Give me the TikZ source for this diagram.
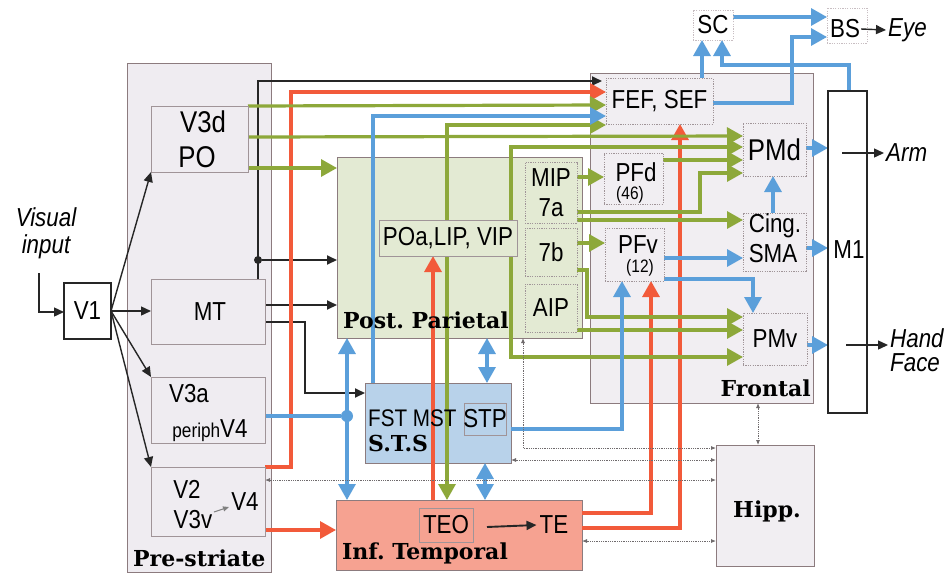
\documentclass[tikz,border=0pt]{standalone}
\usepackage{fontspec}
\setmainfont{Liberation Sans}
\newfontfamily\labfam[FakeStretch=0.86]{Liberation Sans}
\newfontfamily\serfam{DejaVu Serif}
\usetikzlibrary{arrows.meta}
\frenchspacing
\definecolor{cRed}{HTML}{F25A3A}
\definecolor{cGrn}{HTML}{8DA83A}
\definecolor{cBlu}{HTML}{5B9FDA}
\definecolor{cBlk}{HTML}{262626}
\definecolor{preF}{HTML}{EFECF1}
\definecolor{parF}{HTML}{E3EAD3}
\definecolor{stsF}{HTML}{B8D2EA}
\definecolor{itF}{HTML}{F6A291}
\definecolor{froF}{HTML}{F1EEF2}
\definecolor{regB}{HTML}{8C7B7E}
\definecolor{iboxB}{HTML}{A09498}
\definecolor{lboxB}{HTML}{C8BEC2}
\definecolor{dotC}{HTML}{6F6A6C}
\begin{document}
\begin{tikzpicture}[x=1pt,y=-1pt,
  region/.style={draw=regB, line width=0.8pt, anchor=north west, inner sep=0pt, outer sep=0pt},
  ibox/.style={draw=iboxB, line width=0.7pt, anchor=north west, inner sep=0pt, outer sep=0pt,
    font=\labfam\fontsize{26}{28}\selectfont},
  dbox/.style={ibox, dash pattern=on 1.2pt off 1.2pt},
  lbox/.style={dbox, draw=lboxB},
  lab/.style={font=\labfam\fontsize{26}{28}\selectfont, inner sep=0pt},
  big/.style={font=\labfam\fontsize{30}{32}\selectfont, inner sep=0pt},
  sml/.style={font=\labfam\fontsize{18}{20}\selectfont, inner sep=0pt},
  ital/.style={font=\labfam\itshape\fontsize{26}{28}\selectfont, inner sep=2pt},
  ser/.style={font=\serfam\bfseries\fontsize{22}{24}\selectfont, inner sep=0pt},
  cl/.style={line width=3.2pt},
  red/.style={cl, draw=cRed},
  grn/.style={cl, draw=cGrn},
  blu/.style={cl, draw=cBlu},
  blk/.style={line width=1.9pt, draw=cBlk},
  dln/.style={line width=0.8pt, draw=dotC, densely dotted},
  tipC/.style={-{Triangle[length=16pt,width=17pt]}},
  bothC/.style={{Triangle[length=16pt,width=17pt]}-{Triangle[length=16pt,width=17pt]}},
  tipK/.style={-{Triangle[length=10pt,width=9pt]}},
  tipS/.style={{Latex[length=5pt,width=4pt]}-{Latex[length=5pt,width=4pt]}}
]
\path[use as bounding box, fill=white] (0,0) rectangle (951,574);

% ---------- regions ----------
\node[region, fill=preF, minimum width=144pt, minimum height=509pt] (pre) at (127,63) {};
\node[region, fill=parF, minimum width=245pt, minimum height=181pt] (par) at (337,157) {};
\node[region, fill=stsF, minimum width=146pt, minimum height=80pt] (sts) at (365,383) {};
\node[region, fill=itF, minimum width=246pt, minimum height=70pt] (it) at (336,500) {};
\node[region, fill=froF, minimum width=223pt, minimum height=330pt] (fro) at (590,73) {};
\node[region, fill=froF, minimum width=98pt, minimum height=121pt] (hipp) at (716,445) {};

% ---------- inner boxes (positions only, drawn later) ----------
\path
 node[ibox, fill=preF, minimum width=97pt, minimum height=66pt] (V3d) at (151,106) {}
 node[ibox, fill=preF, minimum width=114pt, minimum height=65pt] (MT) at (151,279) {}
 node[ibox, fill=preF, minimum width=114pt, minimum height=66pt] (V3a) at (151,377) {}
 node[ibox, fill=preF, minimum width=114pt, minimum height=69pt] (V2) at (151,467) {}
 node[draw=cBlk, line width=1.3pt, fill=white, anchor=north west, inner sep=0pt, outer sep=0pt,
      minimum width=47pt, minimum height=56pt] (V1) at (64,283) {}
 node[ibox, fill=parF, minimum width=138pt, minimum height=36pt] (POa) at (379,220) {}
 node[dbox, fill=parF, minimum width=52pt, minimum height=61pt] (MIP) at (525,162) {}
 node[dbox, fill=parF, minimum width=52pt, minimum height=48pt] (b7) at (525,228) {}
 node[dbox, fill=parF, minimum width=52pt, minimum height=48pt] (AIP) at (525,284) {}
 node[ibox, fill=stsF, minimum width=42pt, minimum height=32pt] (STP) at (464,403) {}
 node[ibox, fill=itF, minimum width=54pt, minimum height=34pt] (TEO) at (419,508) {}
 node[dbox, fill=froF, minimum width=107pt, minimum height=46pt] (FEF) at (606,78) {}
 node[dbox, fill=froF, minimum width=63pt, minimum height=53pt] (PMd) at (743,123) {}
 node[dbox, fill=froF, minimum width=59pt, minimum height=51pt] (PFd) at (604,153) {}
 node[dbox, fill=froF, minimum width=63pt, minimum height=58pt] (Cing) at (743,213) {}
 node[dbox, fill=froF, minimum width=59pt, minimum height=53pt] (PFv) at (605,228) {}
 node[dbox, fill=froF, minimum width=64pt, minimum height=52pt] (PMv) at (743,313) {}
 node[draw=cBlk, line width=1.6pt, fill=white, anchor=north west, inner sep=0pt, outer sep=0pt,
      minimum width=39pt, minimum height=322pt] (M1) at (828,91) {}
 node[lbox, fill=white, minimum width=40pt, minimum height=30pt] (SC) at (693,10) {}
 node[lbox, fill=white, minimum width=40pt, minimum height=35pt] (BS) at (827,8) {};

% ---------- connectors ----------
% black
\node[circle, fill=cBlk, inner sep=0pt, minimum size=8pt] (kdot) at (258,260) {};
\draw[blk, tipK, shorten >=4pt] (MT.north -| 258,0) -- (258,81) -- (FEF.west |- 0,81);
\draw[blk, tipK] (kdot) -- (par.west |- kdot);
\draw[blk, tipK] (MT.east |- 0,305) -- (par.west |- 0,305);
\draw[blk, tipK] (MT.east |- 0,322) -- (305,322) -- (305,393) -- (sts.west |- 0,393);
% red
\draw[red, tipC] (V2.north east) -- (291,467) -- (291,92) -- (FEF.west |- 0,92);
\draw[red, tipC] (V2.east |- 0,530) -- (it.west |- 0,530);
\draw[red, tipC] (it.north -| 433,0) -- (POa.south -| 433,0);
\draw[red, tipC] (it.east |- 0,513) -- (651,513) -- (PFv.south -| 651,0);
\draw[red, tipC] (it.east |- 0,528) -- (680,528) -- (FEF.south -| 680,0);
% green
\draw[grn, tipC] (V3d.east |- 0,106) -- (FEF.west |- 0,105);
\draw[grn, tipC] (V3d.east |- 0,137) -- (PMd.west |- 0,136);
\draw[grn, tipC] (V3d.east |- 0,168) -- (par.west |- 0,168);
\draw[grn, tipC] (POa.north -| 447,0) -- (447,125) -- (FEF.west |- 0,125);
\draw[grn, tipC] (POa.south -| 447,0) -- (it.north -| 447,0);
\draw[grn, bothC] (PMd.west |- 0,147) -- (511,147) -- (511,357) -- (PMv.west |- 0,357);
\draw[grn, tipC] (MIP.east |- 0,177) -- (PFd.west |- 0,177);
\draw[grn, tipC] (MIP.east |- 0,212) -- (700,212) -- (700,173) -- (PMd.west |- 0,173);
\draw[grn, tipC] (MIP.east |- 0,220) -- (Cing.west |- 0,220);
\draw[grn, tipC] (b7.east |- 0,243) -- (PFv.west |- 0,243);
\draw[grn, tipC] (PFd.east |- 0,160) -- (PMd.west |- 0,160);
\draw[grn, tipC] (b7.east |- 0,270) -- (587,270) -- (587,317) -- (PMv.west |- 0,317);
\draw[grn, tipC] (AIP.east |- 0,330) -- (PMv.west |- 0,330);
% blue
\draw[blu, tipC] (sts.north -| 373,0) -- (373,116) -- (FEF.west |- 0,116);
\node[circle, fill=cBlu, inner sep=0pt, minimum size=12pt] (bdot) at (347,416) {};
\draw[blu] (V3a.east |- bdot) -- (bdot);
\draw[blu, bothC] (par.south -| bdot) -- (it.north -| bdot);
\draw[blu, bothC] (par.south -| 487,0) -- (sts.north -| 487,0);
\draw[blu, bothC] (sts.south -| 485,0) -- (it.north -| 485,0);
\draw[blu, tipC] (sts.east |- 0,429) -- (622,429) -- (PFv.south -| 622,0);
\draw[blu, tipC] (PFv.east |- 0,258) -- (Cing.west |- 0,258);
\draw[blu, tipC] (PFv.east |- 0,279) -- (753,279) -- (PMv.north -| 753,0);
\draw[blu, tipC] (Cing.north -| 773,0) -- (PMd.south -| 773,0);
\draw[blu, tipC] (PMd.east |- 0,148) -- (M1.west |- 0,148);
\draw[blu, tipC] (Cing.east |- 0,248) -- (M1.west |- 0,248);
\draw[blu, tipC] (PMv.east |- 0,345) -- (M1.west |- 0,345);
\draw[blu, tipC] (FEF.north -| 702,0) -- (SC.south -| 702,0);
\draw[blu, tipC] (M1.north -| 849,0) -- (849,65) -- (722,65) -- (SC.south -| 722,0);
\draw[blu, tipC] (FEF.east |- 0,103) -- (792,103) -- (792,37) -- (BS.west |- 0,37);
\draw[blu, tipC] (SC.east |- 0,17) -- (BS.west |- 0,17);
% dotted (hippocampus)
\draw[dln, tipS] (fro.south -| 758,0) -- (hipp.north -| 758,0);
\draw[dln, tipS] (par.south -| 523,0) -- (523,448) -- (hipp.west |- 0,448);
\draw[dln, tipS] (sts.east |- 0,460) -- (hipp.west |- 0,460);
\draw[dln, tipS] (V2.east |- 0,480) -- (hipp.west |- 0,480);
\draw[dln, tipS] (it.east |- 0,541) -- (hipp.west |- 0,541);

% ---------- inner boxes drawn on top ----------
\path
 node[ibox, fill=preF, minimum width=97pt, minimum height=66pt] at (151,106) {}
 node[ibox, fill=preF, minimum width=114pt, minimum height=65pt] at (151,279) {}
 node[ibox, fill=preF, minimum width=114pt, minimum height=66pt] at (151,377) {}
 node[ibox, fill=preF, minimum width=114pt, minimum height=69pt] at (151,467) {}
 node[draw=cBlk, line width=1.3pt, fill=white, anchor=north west, inner sep=0pt, outer sep=0pt,
      minimum width=47pt, minimum height=56pt] at (64,283) {}
 node[ibox, fill=parF, minimum width=138pt, minimum height=36pt] at (379,220) {}
 node[dbox, fill=parF, minimum width=52pt, minimum height=61pt] at (525,162) {}
 node[dbox, fill=parF, minimum width=52pt, minimum height=48pt] at (525,228) {}
 node[dbox, fill=parF, minimum width=52pt, minimum height=48pt] at (525,284) {}
 node[ibox, fill=stsF, minimum width=42pt, minimum height=32pt] at (464,403) {}
 node[ibox, fill=itF, minimum width=54pt, minimum height=34pt] at (419,508) {}
 node[dbox, fill=froF, minimum width=107pt, minimum height=46pt] at (606,78) {}
 node[dbox, fill=froF, minimum width=63pt, minimum height=53pt] at (743,123) {}
 node[dbox, fill=froF, minimum width=59pt, minimum height=51pt] at (604,153) {}
 node[dbox, fill=froF, minimum width=63pt, minimum height=58pt] at (743,213) {}
 node[dbox, fill=froF, minimum width=59pt, minimum height=53pt] at (605,228) {}
 node[dbox, fill=froF, minimum width=64pt, minimum height=52pt] at (743,313) {}
 node[draw=cBlk, line width=1.6pt, fill=white, anchor=north west, inner sep=0pt, outer sep=0pt,
      minimum width=39pt, minimum height=322pt] at (828,91) {}
 node[lbox, fill=white, minimum width=40pt, minimum height=30pt] at (693,10) {}
 node[lbox, fill=white, minimum width=40pt, minimum height=35pt] at (827,8) {};

% ---------- texts ----------
\node[big] (tV3d) at (203,122) {V3d};
\node[big] (tPO) at (197,157) {PO};
\node[lab] (tMT) at (210,312) {MT};
\node[lab] (tV3a) at (189,394) {V3a};
\node[lab] (tper) at (210,431) {{\fontsize{20}{20}\selectfont periph}V4};
\node[lab] (tV2) at (187,489) {V2};
\node[lab] (tV3v) at (193,520) {V3v};
\node[lab] (tV4) at (245,502) {V4};
\coordinate (aS) at (214,512);
\coordinate (aE) at (229,507);
\draw[line width=1pt, draw=gray, -{Triangle[length=6pt,width=5pt]}] (aS) -- (aE);
\node[lab] (tV1) at (V1.center) {V1};
\node[ital, align=center] (vis) at (46,233) {Visual\\[-1pt]input};
\node[lab] (tPOa) at (POa.center) {POa,LIP, VIP};
\node[lab] (tMIP) at (551,178) {MIP};
\node[lab] (t7a) at (551,208) {7a};
\node[lab] (t7b) at (b7.center) {7b};
\node[lab] (tAIP) at (AIP.center) {AIP};
\node[lab, anchor=west, font=\labfam\fontsize{24}{26}\selectfont] (tFST) at (368,418) {FST MST};
\node[lab] (tSTP) at (STP.center) {STP};
\node[lab] (tTEO) at (TEO.center) {TEO};
\node[lab, inner sep=3pt] (tTE) at (554,525) {TE};
\draw[blk, tipK] (487,527) -- (tTE.west);
\node[lab] (tFEF) at (FEF.center) {FEF, SEF};
\node[big] (tPMd) at (PMd.center) {PMd};
\node[lab] (tPFd) at (636,172) {PFd};
\node[sml] (t46) at (630,195) {(46)};
\node[lab] (tCing) at (775,226) {Cing.};
\node[lab] (tSMA) at (773,254) {SMA};
\node[lab] (tPFv) at (638,245) {PFv};
\node[sml] (t12) at (640,268) {(12)};
\node[lab] (tPMv) at (PMv.center) {PMv};
\node[lab] (tM1) at (849,250) {M1};
\node[lab] (tSC) at (SC.center) {SC};
\node[lab, inner sep=1pt] (tBS) at (845,29) {BS};
\node[ital, anchor=west] (eye) at (886,30) {Eye};
\draw[blk, line width=1.4pt, tipK] (tBS.east) -- (eye.west);
\coordinate (armS) at (842,153);
\node[ital, anchor=west] (arm) at (884,153) {Arm};
\draw[blk, line width=1.4pt, tipK] (armS) -- (arm.west);
\coordinate (handS) at (846,345);
\node[ital, anchor=west] (hand) at (888,338) {Hand};
\node[ital, anchor=west] (face) at (888,363) {Face};
\draw[blk, line width=1.4pt, tipK] (handS) -- (hand.west |- handS);
\coordinate (vin) at (39,273);
\draw[blk, line width=1.4pt, tipK] (vin) -- (39,312) -- (V1.west |- 0,312);
\draw[blk, line width=1.4pt, tipK] (V1.east) -- (V3d.south west);
\draw[blk, line width=1.4pt, tipK] (V1.east) -- (MT.west |- V1.east);
\draw[blk, line width=1.4pt, tipK] (V1.east) -- (V3a.north west);
\draw[blk, line width=1.4pt, tipK] (V1.east) -- (V2.north west);

\node[ser, anchor=west] (lpre) at (133,558) {Pre-striate};
\node[ser, anchor=west] (lpar) at (343,320) {Post. Parietal};
\node[ser, anchor=west] (lsts) at (368,443) {S.T.S};
\node[ser, anchor=west] (lit) at (342,553) {Inf. Temporal};
\node[ser, anchor=east] (lfro) at (811,388) {Frontal};
\node[ser] (lhipp) at (767,511) {Hipp.};
\end{tikzpicture}
\end{document}
